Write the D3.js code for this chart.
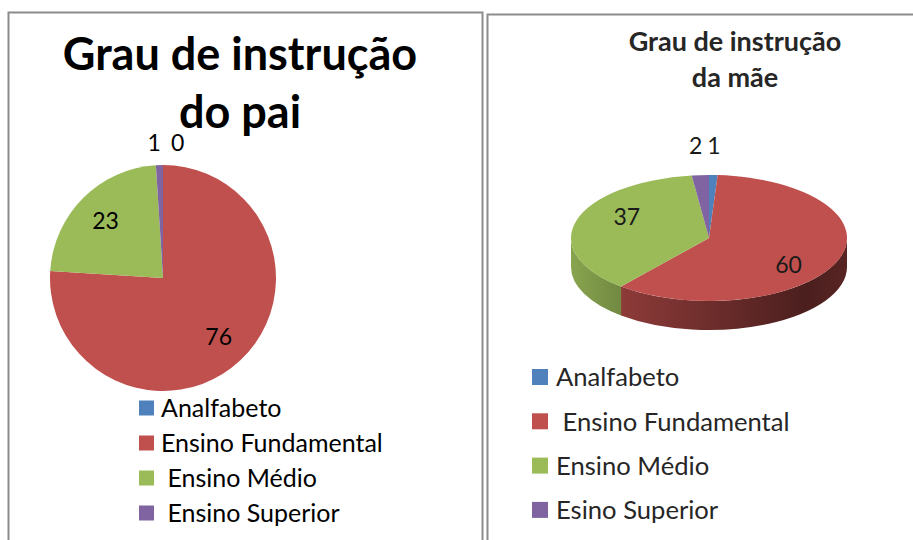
<!DOCTYPE html>
<html>
<head>
<meta charset="utf-8">
<script src="https://cdn.jsdelivr.net/npm/d3@7"></script>
<style>
  body { margin: 0; background: #fff; }
  text { font-family: Lato, "Open Sans", sans-serif; white-space: pre; }
</style>
</head>
<body>
<div id="plot"></div>
<script>
// two pies: father (flat) and mother (3d look)

const colors = ["#4f81bd", "#c0504d", "#9bbb59", "#8064a2"];

const paiTitle = ["Grau de instrução", "do pai"];
const paiCategories = ["Analfabeto", "Ensino Fundamental", " Ensino Médio", " Ensino Superior"];
const paiValues = [0, 76, 23, 1];

const maeTitle = ["Grau de instrução", "da mãe"];
const maeCategories = ["Analfabeto", " Ensino Fundamental", "Ensino Médio", "Esino Superior"];
const maeValues = [1, 60, 37, 2];

const w = 913;
const h = 540;

const svg = d3.select("div#plot")
    .append("svg")
    .attr("width", w)
    .attr("height", h);

const defs = svg.append("defs");

// panel borders
svg.append("rect")
    .attr("x", 8.5).attr("y", 12.5)
    .attr("width", 474).attr("height", 560)
    .attr("fill", "none").attr("stroke", "#8c8c8c").attr("stroke-width", 2);
svg.append("rect")
    .attr("x", 487.5).attr("y", 14.5)
    .attr("width", 460).attr("height", 560)
    .attr("fill", "none").attr("stroke", "#8c8c8c").attr("stroke-width", 2);

const pie = d3.pie().sort(null).value(d => d);

// ---------- left: flat pie ----------
{
  const cx = 163, cy = 278, r = 113;
  const g = svg.append("g");

  g.selectAll(".title")
    .data(paiTitle)
    .enter().append("text")
    .attr("x", 240)
    .attr("y", (d, i) => 70 + i * 58)
    .attr("text-anchor", "middle")
    .attr("font-weight", "bold")
    .attr("font-size", 45)
    .attr("fill", "#000")
    .text(d => d);

  const arcs = pie(paiValues);
  const arc = d3.arc().innerRadius(0).outerRadius(r);

  g.selectAll(".slice")
    .data(arcs)
    .enter().append("path")
    .attr("transform", `translate(${cx},${cy})`)
    .attr("d", arc)
    .attr("fill", (d, i) => colors[i]);

  // labels: big slices inside, tiny ones above the rim
  g.selectAll(".lbl")
    .data(arcs)
    .enter().append("text")
    .each(function(d) {
      const a = (d.startAngle + d.endAngle) / 2;
      const small = (d.endAngle - d.startAngle) < 0.3;
      const k = small ? r + 22 : r * 0.72;
      let x = cx + k * Math.sin(a);
      const y = cy - k * Math.cos(a);
      let anchor = "middle";
      if (small) {
        if (Math.sin(a) < 0) { anchor = "end"; x += 2; }
        else { anchor = "start"; x += 8; }
      }
      d3.select(this)
        .attr("x", x).attr("y", y)
        .attr("dy", "0.35em")
        .attr("text-anchor", anchor);
    })
    .attr("font-size", 23)
    .attr("fill", "#000")
    .text(d => d.data);

  const leg = g.selectAll(".leg")
    .data(paiCategories)
    .enter().append("g")
    .attr("transform", (d, i) => `translate(139, ${408 + i * 35})`);
  leg.append("rect")
    .attr("y", -7.5).attr("width", 15).attr("height", 15)
    .attr("fill", (d, i) => colors[i]);
  leg.append("text")
    .attr("x", 22).attr("dy", "0.36em")
    .attr("font-size", 25)
    .attr("fill", "#000")
    .text(d => d);
}

// ---------- right: tilted pie ----------
{
  const cx = 709, cy = 238, rx = 138, ry = 63, depth = 29;
  const g = svg.append("g");

  g.selectAll(".title")
    .data(maeTitle)
    .enter().append("text")
    .attr("x", 735)
    .attr("y", (d, i) => 51 + i * 36)
    .attr("text-anchor", "middle")
    .attr("font-weight", "bold")
    .attr("font-size", 27)
    .attr("fill", "#262626")
    .text(d => d);

  const arcs = pie(maeValues);
  const px = a => cx + rx * Math.sin(a);
  const py = a => cy - ry * Math.cos(a);

  // side shading gradients
  colors.forEach((c, i) => {
    const grad = defs.append("linearGradient")
      .attr("id", "side" + i)
      .attr("gradientUnits", "userSpaceOnUse")
      .attr("x1", cx - rx).attr("x2", cx + rx)
      .attr("y1", 0).attr("y2", 0);
    [[0, 0.88], [0.17, 0.74], [0.85, 0.39], [1, 0.46]].forEach(([o, f]) => {
      grad.append("stop")
        .attr("offset", o)
        .attr("stop-color", d3.interpolateRgb("#000", c)(f));
    });
  });

  const sides = arcs.map((d, i) => {
    const a0 = Math.max(d.startAngle, Math.PI / 2);
    const a1 = Math.min(d.endAngle, Math.PI * 3 / 2);
    return { i, a0, a1 };
  }).filter(s => s.a1 > s.a0);

  g.selectAll(".side")
    .data(sides)
    .enter().append("path")
    .attr("d", s => `M${px(s.a0)},${py(s.a0)}` +
      `A${rx},${ry} 0 0 1 ${px(s.a1)},${py(s.a1)}` +
      `L${px(s.a1)},${py(s.a1) + depth}` +
      `A${rx},${ry} 0 0 0 ${px(s.a0)},${py(s.a0) + depth}Z`)
    .attr("fill", s => `url(#side${s.i})`);

  const arc = d3.arc().innerRadius(0).outerRadius(rx);
  g.selectAll(".top")
    .data(arcs)
    .enter().append("path")
    .attr("transform", `translate(${cx},${cy}) scale(1,${ry / rx})`)
    .attr("d", arc)
    .attr("fill", (d, i) => colors[i]);

  g.selectAll(".lbl")
    .data(arcs)
    .enter().append("text")
    .each(function(d) {
      const a = (d.startAngle + d.endAngle) / 2;
      const small = (d.endAngle - d.startAngle) < 0.3;
      let x, y, anchor = "middle";
      if (small) {
        x = px(a);
        y = py(a) - 29;
        if (Math.sin(a) < 0) { anchor = "end"; x += 2; }
        else { anchor = "start"; x -= 6; }
      } else {
        x = cx + rx * 0.62 * Math.sin(a);
        y = cy - ry * 1.17 * Math.cos(a);
      }
      d3.select(this)
        .attr("x", x).attr("y", y)
        .attr("dy", "0.35em")
        .attr("text-anchor", anchor);
    })
    .attr("font-size", 23)
    .attr("fill", "#1a1a1a")
    .text(d => d.data);

  const leg = g.selectAll(".leg")
    .data(maeCategories)
    .enter().append("g")
    .attr("transform", (d, i) => `translate(532, ${377 + i * 44.3})`);
  leg.append("rect")
    .attr("y", -8).attr("width", 16).attr("height", 16)
    .attr("fill", (d, i) => colors[i]);
  leg.append("text")
    .attr("x", 24).attr("dy", "0.36em")
    .attr("font-size", 25.6)
    .attr("fill", "#262626")
    .text(d => d);
}
</script>
</body>
</html>
